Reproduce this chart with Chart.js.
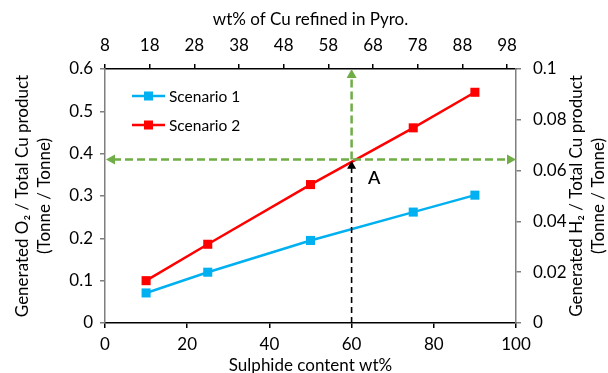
<!DOCTYPE html>
<html><head><meta charset="utf-8">
<script src="https://cdn.jsdelivr.net/npm/chart.js@4"></script>
<style>html,body{margin:0;padding:0;background:#fff}#wrap{width:608px;height:373px}</style>
</head><body><div id="wrap"><canvas id="c" width="608" height="373"></canvas></div>
<script>
// ---- data ----
const sulphide = [10, 25, 50, 75, 90];
const scenario1 = [0.071, 0.120, 0.195, 0.262, 0.302];
const scenario2 = [0.100, 0.186, 0.327, 0.461, 0.545];
const seriesLabels = ['Scenario 1', 'Scenario 2'];
const bottomTicks = [0, 20, 40, 60, 80, 100];
const topTicks = [8, 18, 28, 38, 48, 58, 68, 78, 88, 98];
const leftTicks = [0, 0.1, 0.2, 0.3, 0.4, 0.5, 0.6];
const rightTicks = [0, 0.02, 0.04, 0.06, 0.08, 0.1];
const guideX = 60;
const guideY = 0.386;
const arrowTipY = 0.383;
const labelA = {text: 'A', x: 65.5, y: 0.343};
const titles = {
  bottom: 'Sulphide content wt%',
  top: 'wt% of Cu refined in Pyro.',
  left: ['Generated O\u2082 / Total Cu product', '(Tonne / Tonne)'],
  right: ['Generated H\u2082 / Total Cu product', '(Tonne / Tonne)']
};

const FONT = 'Lato';
const FS = 17;
const fmt = v => String(parseFloat(Number(v).toFixed(3)));
const setTicks = arr => s => { s.ticks = arr.map(v => ({value: v})); };

function axisCommon(color, ticksArr) {
  return {
    type: 'linear',
    afterBuildTicks: setTicks(ticksArr),
    grid: {drawOnChartArea: false, drawTicks: true, tickLength: 5, color: color, lineWidth: 1.5},
    border: {display: true, color: color, width: 1.5},
    ticks: {color: '#000', font: {family: FONT, size: FS}, autoSkip: false, maxRotation: 0, callback: fmt}
  };
}

function arrowHead(ctx, x, y, dx, dy, len, half, color) {
  const px = -dy, py = dx;
  ctx.beginPath();
  ctx.moveTo(x, y);
  ctx.lineTo(x - dx * len + px * half, y - dy * len + py * half);
  ctx.lineTo(x - dx * len - px * half, y - dy * len - py * half);
  ctx.closePath();
  ctx.fillStyle = color;
  ctx.fill();
}

const extras = {
  id: 'extras',
  afterDatasetsDraw(chart) {
    const {ctx, scales} = chart;
    const sx = scales.x, sy = scales.y;
    const gx = sx.getPixelForValue(guideX);
    const gy = sy.getPixelForValue(guideY);
    const green = '#70AD47';
    ctx.save();
    // black dashed vertical
    const tipY = sy.getPixelForValue(arrowTipY);
    ctx.setLineDash([6, 4]);
    ctx.strokeStyle = '#000';
    ctx.lineWidth = 1.6;
    ctx.beginPath();
    ctx.moveTo(gx, sy.getPixelForValue(0));
    ctx.lineTo(gx, tipY + 7);
    ctx.stroke();
    // green dashed horizontal
    ctx.setLineDash([8, 4]);
    ctx.strokeStyle = green;
    ctx.lineWidth = 2.5;
    const xl = sx.getPixelForValue(sx.min), xr = sx.getPixelForValue(sx.max);
    ctx.beginPath();
    ctx.moveTo(xl + 8, gy);
    ctx.lineTo(xr - 8, gy);
    ctx.stroke();
    // green dashed vertical up
    const yt = sy.getPixelForValue(sy.max);
    ctx.beginPath();
    ctx.moveTo(gx, gy);
    ctx.lineTo(gx, yt + 8);
    ctx.stroke();
    ctx.setLineDash([]);
    arrowHead(ctx, xl + 1, gy, -1, 0, 9, 5, green);
    arrowHead(ctx, xr, gy, 1, 0, 9, 5, green);
    arrowHead(ctx, gx, yt, 0, -1, 9, 5, green);
    arrowHead(ctx, gx, tipY, 0, -1, 8, 4.5, '#000');
    // label A
    ctx.fillStyle = '#000';
    ctx.font = '600 18px ' + FONT;
    ctx.textAlign = 'center';
    ctx.textBaseline = 'middle';
    ctx.fillText(labelA.text, sx.getPixelForValue(labelA.x), sy.getPixelForValue(labelA.y));
    ctx.restore();
  },
  afterDraw(chart) {
    const {ctx, chartArea: ca} = chart;
    ctx.save();
    // legend
    chart.data.datasets.forEach((ds, i) => {
      const y = ca.top + 27 + i * 29;
      const x0 = ca.left + 27, x1 = ca.left + 60;
      ctx.strokeStyle = ds.borderColor;
      ctx.lineWidth = ds.borderWidth;
      ctx.beginPath(); ctx.moveTo(x0, y); ctx.lineTo(x1, y); ctx.stroke();
      ctx.fillStyle = ds.backgroundColor;
      ctx.fillRect((x0 + x1) / 2 - 4.5, y - 4.5, 9, 9);
      ctx.fillStyle = '#000';
      ctx.font = '15.5px ' + FONT;
      ctx.textAlign = 'left';
      ctx.textBaseline = 'middle';
      ctx.fillText(ds.label, x1 + 4, y + 1);
    });
    // right axis title, reading bottom-to-top
    const cy = (ca.top + ca.bottom) / 2;
    ctx.translate(577, cy);
    ctx.rotate(-Math.PI / 2);
    ctx.fillStyle = '#000';
    ctx.font = FS + 'px ' + FONT;
    ctx.textAlign = 'center';
    ctx.textBaseline = 'middle';
    titles.right.forEach((t, i) => ctx.fillText(t, 0, i * 22));
    ctx.restore();
  }
};

const xAxis = axisCommon('#000', bottomTicks);
Object.assign(xAxis, {position: 'bottom', min: 0, max: 100,
  title: {display: true, text: titles.bottom, color: '#000', font: {family: FONT, size: FS, lineHeight: 1}, padding: {top: 0, bottom: -1}},
  afterFit: s => { s.height = 50; }});
xAxis.ticks.padding = 6;

const x2Axis = axisCommon('#000', topTicks);
Object.assign(x2Axis, {position: 'top', min: 8, max: 100,
  title: {display: true, text: titles.top, color: '#000', font: {family: FONT, size: FS, lineHeight: 1.2}, padding: {top: 9, bottom: 0}},
  afterFit: s => { s.height = 69; }});
x2Axis.ticks.padding = 8;

const yAxis = axisCommon('#7F7F7F', leftTicks);
Object.assign(yAxis, {position: 'left', min: 0, max: 0.6,
  title: {display: true, text: titles.left, color: '#000', font: {family: FONT, size: FS, lineHeight: 1.3}, padding: {top: 11, bottom: 0}},
  afterFit: s => { s.width = 105; }});
yAxis.ticks.padding = 7;

const y2Axis = axisCommon('#7F7F7F', rightTicks);
Object.assign(y2Axis, {position: 'right', min: 0, max: 0.1,
  afterFit: s => { s.width = 92; }});
y2Axis.ticks.padding = 12;

new Chart(document.getElementById('c'), {
  type: 'line',
  data: {
    datasets: [
      {label: seriesLabels[0], data: sulphide.map((x, i) => ({x, y: scenario1[i]})),
       borderColor: '#00B0F0', backgroundColor: '#00B0F0', borderWidth: 2.5,
       pointStyle: 'rect', pointRadius: 6.4, pointBorderWidth: 0, xAxisID: 'x', yAxisID: 'y', tension: 0},
      {label: seriesLabels[1], data: sulphide.map((x, i) => ({x, y: scenario2[i]})),
       borderColor: '#FF0000', backgroundColor: '#FF0000', borderWidth: 2.5,
       pointStyle: 'rect', pointRadius: 6.4, pointBorderWidth: 0, xAxisID: 'x', yAxisID: 'y', tension: 0}
    ]
  },
  options: {
    responsive: false,
    animation: false,
    devicePixelRatio: 1,
    layout: {padding: 0},
    plugins: {legend: {display: false}, tooltip: {enabled: false}},
    scales: {x: xAxis, x2: x2Axis, y: yAxis, y2: y2Axis}
  },
  plugins: [extras]
});
</script>
</body></html>
